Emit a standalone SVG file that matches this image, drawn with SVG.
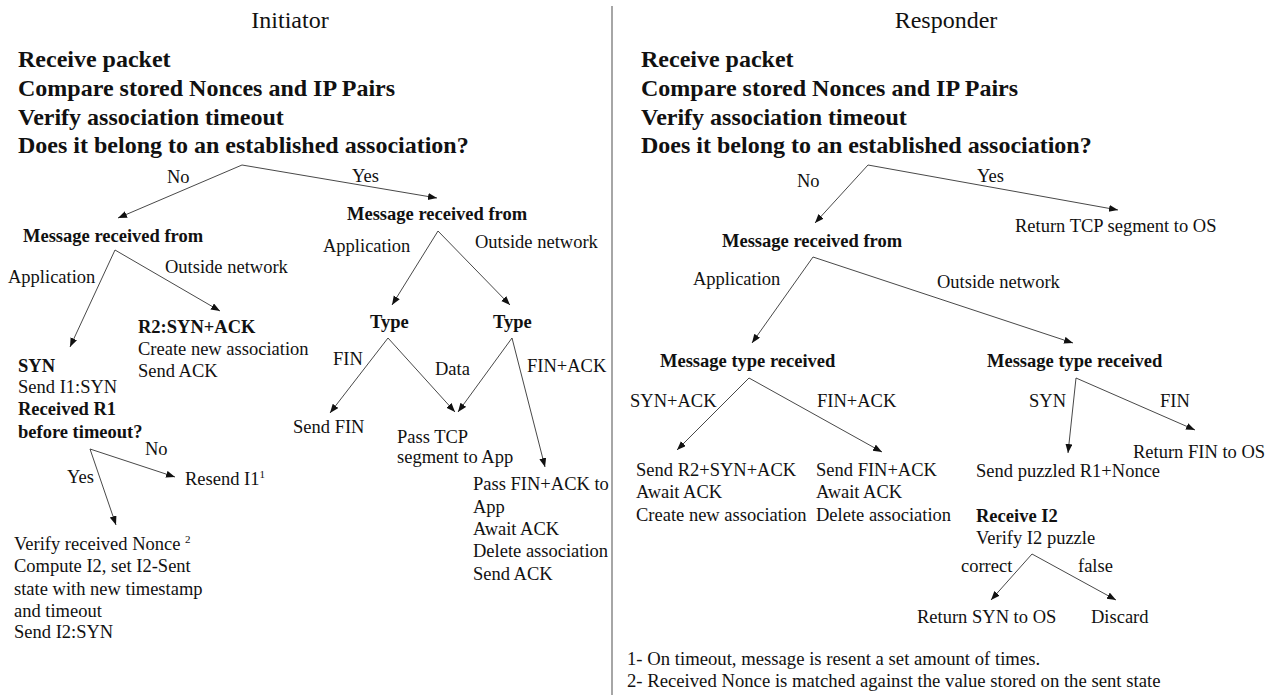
<svg xmlns="http://www.w3.org/2000/svg" width="1281" height="695" viewBox="0 0 1281 695">
  <style>
    text { font-family: "Liberation Serif", "Times New Roman", serif; fill: #111; }
    .title { font-size: 24px; text-anchor: middle; }
    .head { font-size: 24px; font-weight: bold; }
    .sub { font-size: 18.5px; font-weight: bold; }
    .t { font-size: 18.5px; }
    .foot { font-size: 18.7px; }
    .sup { font-size: 11px; }
    .edge { stroke: #333; stroke-width: 0.9; fill: none; marker-end: url(#arrow); }
    .divider { stroke: #888; stroke-width: 1.5; }
  </style>
  <defs>
    <marker id="arrow" markerUnits="userSpaceOnUse" markerWidth="10" markerHeight="8" refX="9" refY="3.5" orient="auto">
      <path d="M0,0 L9,3.5 L0,7 z" fill="#111"/>
    </marker>
  </defs>
  <rect width="1281" height="695" fill="#fff"/>

  <!-- column divider -->
  <line class="divider" x1="612" y1="6" x2="612" y2="695"/>

  <!-- ===== Initiator ===== -->
  <g id="initiator-title"><text class="title" x="290" y="28">Initiator</text></g>
  <g id="initiator-check">
    <text class="head" x="18" y="67">Receive packet</text>
    <text class="head" x="18" y="96">Compare stored Nonces and IP Pairs</text>
    <text class="head" x="18" y="125">Verify association timeout</text>
    <text class="head" x="18" y="153">Does it belong to an established association?</text>
  </g>
  <g id="i-new-source"><text class="sub" x="23" y="242">Message received from</text></g>
  <g id="i-syn-ack">
    <text class="sub" x="138" y="333">R2:SYN+ACK</text>
    <text class="t" x="138" y="355">Create new association</text>
    <text class="t" x="138" y="377">Send ACK</text>
  </g>
  <g id="i-syn">
    <text class="sub" x="18" y="372">SYN</text>
    <text class="t" x="18" y="393">Send I1:SYN</text>
    <text class="sub" x="18" y="415">Received R1</text>
    <text class="sub" x="18" y="438">before timeout?</text>
  </g>
  <g id="i-resend"><text class="t" x="185" y="485">Resend I1<tspan class="sup" dy="-7">1</tspan></text></g>
  <g id="i-verify">
    <text class="t" x="14" y="550">Verify received Nonce <tspan class="sup" dy="-7">2</tspan></text>
    <text class="t" x="14" y="572">Compute I2, set I2-Sent</text>
    <text class="t" x="14" y="595">state with new timestamp</text>
    <text class="t" x="14" y="617">and timeout</text>
    <text class="t" x="14" y="638">Send I2:SYN</text>
  </g>
  <g id="i-est-source"><text class="sub" x="347" y="220">Message received from</text></g>
  <g id="i-type-app"><text class="sub" x="370" y="328">Type</text></g>
  <g id="i-type-net"><text class="sub" x="493" y="328">Type</text></g>
  <g id="i-send-fin"><text class="t" x="293" y="433">Send FIN</text></g>
  <g id="i-pass-tcp">
    <text class="t" x="397" y="443">Pass TCP</text>
    <text class="t" x="397" y="463">segment to App</text>
  </g>
  <g id="i-fin-ack">
    <text class="t" x="473" y="490">Pass FIN+ACK to</text>
    <text class="t" x="473" y="513">App</text>
    <text class="t" x="473" y="535">Await ACK</text>
    <text class="t" x="473" y="557">Delete association</text>
    <text class="t" x="473" y="580">Send ACK</text>
  </g>

  <!-- ===== Responder ===== -->
  <g id="responder-title"><text class="title" x="946" y="28">Responder</text></g>
  <g id="responder-check">
    <text class="head" x="641" y="67">Receive packet</text>
    <text class="head" x="641" y="96">Compare stored Nonces and IP Pairs</text>
    <text class="head" x="641" y="125">Verify association timeout</text>
    <text class="head" x="641" y="153">Does it belong to an established association?</text>
  </g>
  <g id="r-return-tcp"><text class="t" x="1015" y="232">Return TCP segment to OS</text></g>
  <g id="r-source"><text class="sub" x="722" y="247">Message received from</text></g>
  <g id="r-type-app"><text class="sub" x="660" y="367">Message type received</text></g>
  <g id="r-type-net"><text class="sub" x="987" y="367">Message type received</text></g>
  <g id="r-return-fin"><text class="t" x="1133" y="458">Return FIN to OS</text></g>
  <g id="r-send-r2">
    <text class="t" x="636" y="476">Send R2+SYN+ACK</text>
    <text class="t" x="636" y="498">Await ACK</text>
    <text class="t" x="636" y="521">Create new association</text>
  </g>
  <g id="r-send-fin-ack">
    <text class="t" x="816" y="476">Send FIN+ACK</text>
    <text class="t" x="816" y="498">Await ACK</text>
    <text class="t" x="816" y="521">Delete association</text>
  </g>
  <g id="r-puzzle">
    <text class="t" x="976" y="477">Send puzzled R1+Nonce</text>
    <text class="sub" x="976" y="522">Receive I2</text>
    <text class="t" x="976" y="544">Verify I2 puzzle</text>
  </g>
  <g id="r-return-syn"><text class="t" x="917" y="623">Return SYN to OS</text></g>
  <g id="r-discard"><text class="t" x="1091" y="623">Discard</text></g>
  <g id="notes">
    <text class="foot" x="627" y="665">1- On timeout, message is resent a set amount of times.</text>
    <text class="foot" x="627" y="687">2- Received Nonce is matched against the value stored on the sent state</text>
  </g>

  <!-- connectors and their labels -->
  <g id="connectors">
    <!-- initiator -->
    <line class="edge" x1="242" y1="165" x2="118" y2="218"/>
    <line class="edge" x1="242" y1="165" x2="437" y2="198"/>
    <line class="edge" x1="115" y1="250" x2="70" y2="347"/>
    <line class="edge" x1="115" y1="250" x2="220" y2="311"/>
    <line class="edge" x1="90" y1="449" x2="175" y2="477"/>
    <line class="edge" x1="90" y1="449" x2="116" y2="525"/>
    <line class="edge" x1="438" y1="231" x2="392" y2="305"/>
    <line class="edge" x1="438" y1="231" x2="510" y2="305"/>
    <line class="edge" x1="388" y1="338" x2="330" y2="413"/>
    <line class="edge" x1="388" y1="338" x2="455" y2="412"/>
    <line class="edge" x1="512" y1="338" x2="458" y2="412"/>
    <line class="edge" x1="512" y1="338" x2="545" y2="467"/>
    <!-- responder -->
    <line class="edge" x1="868" y1="165" x2="815" y2="223"/>
    <line class="edge" x1="868" y1="165" x2="1118" y2="210"/>
    <line class="edge" x1="813" y1="257" x2="752" y2="343"/>
    <line class="edge" x1="813" y1="257" x2="1073" y2="343"/>
    <line class="edge" x1="749" y1="378" x2="677" y2="450"/>
    <line class="edge" x1="749" y1="378" x2="882" y2="452"/>
    <line class="edge" x1="1076" y1="378" x2="1068" y2="453"/>
    <line class="edge" x1="1076" y1="378" x2="1195" y2="430"/>
    <line class="edge" x1="1032" y1="554" x2="991" y2="600"/>
    <line class="edge" x1="1032" y1="554" x2="1116" y2="600"/>
  </g>
  <g id="edge-labels">
    <text class="t" x="167" y="183">No</text>
    <text class="t" x="352" y="182">Yes</text>
    <text class="t" x="8" y="283">Application</text>
    <text class="t" x="165" y="273">Outside network</text>
    <text class="t" x="145" y="455">No</text>
    <text class="t" x="67" y="483">Yes</text>
    <text class="t" x="323" y="252">Application</text>
    <text class="t" x="475" y="248">Outside network</text>
    <text class="t" x="333" y="365">FIN</text>
    <text class="t" x="435" y="375">Data</text>
    <text class="t" x="527" y="372">FIN+ACK</text>
    <text class="t" x="797" y="187">No</text>
    <text class="t" x="977" y="182">Yes</text>
    <text class="t" x="693" y="285">Application</text>
    <text class="t" x="937" y="288">Outside network</text>
    <text class="t" x="630" y="407">SYN+ACK</text>
    <text class="t" x="817" y="407">FIN+ACK</text>
    <text class="t" x="1029" y="407">SYN</text>
    <text class="t" x="1160" y="407">FIN</text>
    <text class="t" x="961" y="572">correct</text>
    <text class="t" x="1078" y="572">false</text>
  </g>
</svg>
